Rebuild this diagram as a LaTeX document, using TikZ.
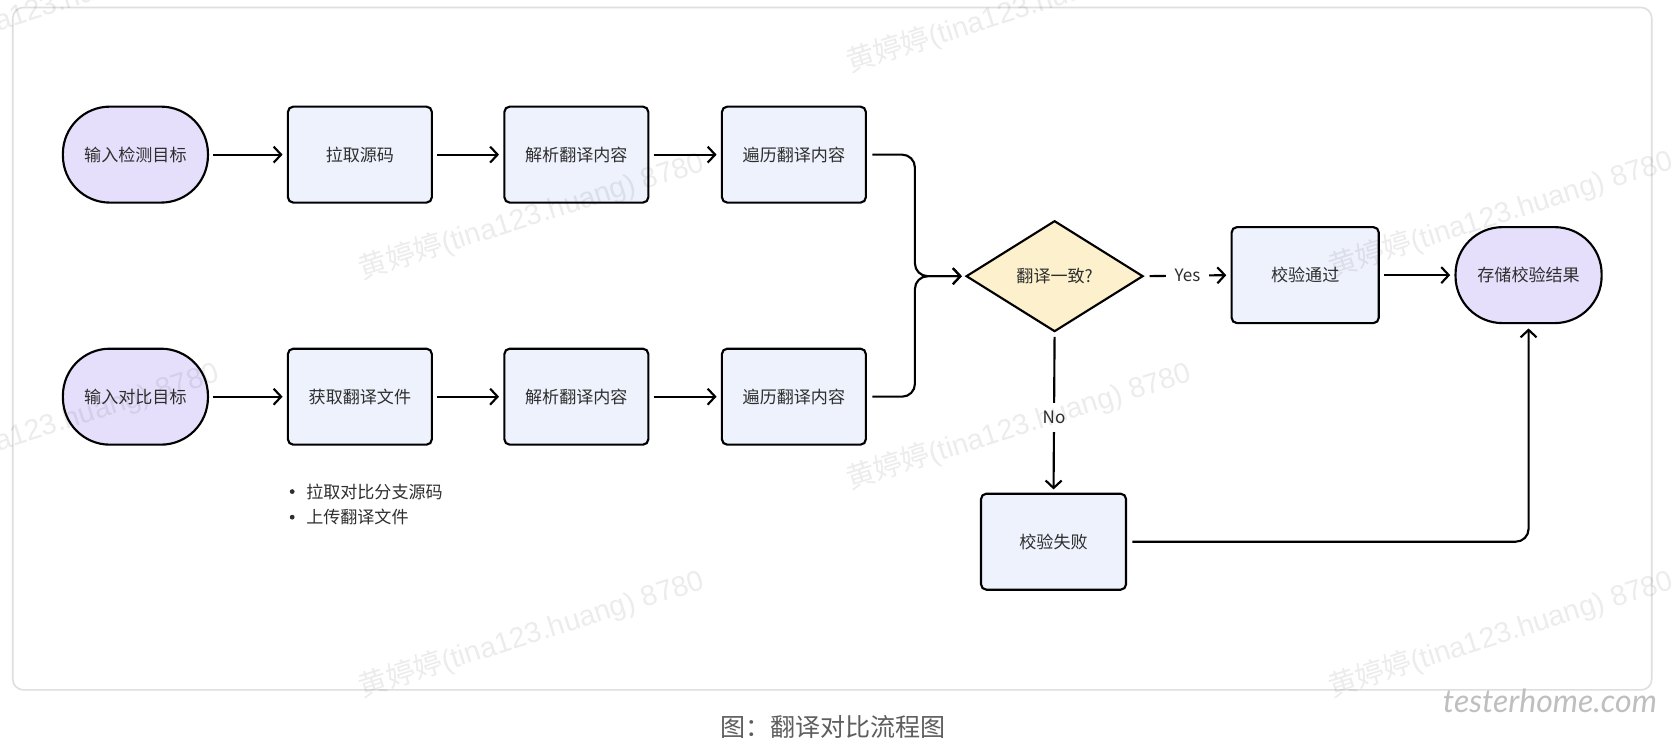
\documentclass[tikz,border=0pt]{standalone}
\usepackage{fontspec}
\setmainfont{Noto Sans CJK SC}
\newfontfamily\wmfont{Liberation Sans}
\newfontfamily\logofont{Lato}
\usetikzlibrary{shapes.geometric,arrows.meta}
\definecolor{lav}{HTML}{E6DFFB}
\definecolor{procfill}{HTML}{EEF2FC}
\definecolor{decfill}{HTML}{FDF1CD}
\definecolor{framecol}{HTML}{DEDEE3}
\definecolor{txt}{HTML}{2E2E2E}
\definecolor{capcol}{HTML}{5E5E5E}
\begin{document}
\begin{tikzpicture}[x=1pt,y=-1pt,
 base/.style={draw=black, line width=2pt, text=txt, font=\fontsize{16}{19}\selectfont, inner sep=0pt},
 term/.style={base, rectangle, rounded corners=44pt, fill=lav, minimum width=136pt, minimum height=90pt},
 proc/.style={base, rectangle, rounded corners=5pt, fill=procfill, minimum width=135pt, minimum height=90pt},
 dec/.style={base, diamond, fill=decfill, minimum width=166pt, minimum height=104pt},
 conn/.style={line width=2pt, draw=black},
 arr/.style={conn, -{Straight Barb[length=7pt,width=15pt]}},
 lbl/.style={fill=white, text=txt, font=\fontsize{16}{19}\selectfont, inner xsep=8pt, inner ysep=8pt},
 wm/.style={anchor=base west, rotate=17.6, text=black, text opacity=0.075, font=\fontsize{27}{31}\selectfont, inner sep=0pt},
]
\useasboundingbox (0,0) rectangle (1568,697.7);
\fill[white] (0,0) rectangle (1568,697.7);
\draw[framecol, line width=1.5pt, rounded corners=10pt] (12,7) rectangle (1549,647);

% row 1
\node[term] (t1) at (127,145) {输入检测目标};
\node[proc] (p1) at (337.5,145) {拉取源码};
\node[proc] (p2) at (540.5,145) {解析翻译内容};
\node[proc] (p3) at (744.5,145) {遍历翻译内容};
% row 2
\node[term] (t2) at (127,372) {输入对比目标};
\node[proc] (q1) at (337.5,372) {获取翻译文件};
\node[proc] (q2) at (540.5,372) {解析翻译内容};
\node[proc] (q3) at (744.5,372) {遍历翻译内容};
% right part
\node[dec] (dia) at (989,259) {翻译一致?};
\node[proc, minimum width=138pt] (pass) at (1224,258) {校验通过};
\node[term, minimum width=137pt] (store) at (1433.5,258) {存储校验结果};
\node[proc, minimum width=136pt] (fail) at (988,508) {校验失败};
\coordinate (m) at (858,259);

\draw[arr, shorten <=4pt, shorten >=4pt] (t1) -- (p1);
\draw[arr, shorten <=4pt, shorten >=4pt] (p1) -- (p2);
\draw[arr, shorten <=4pt, shorten >=4pt] (p2) -- (p3);
\draw[arr, shorten <=4pt, shorten >=4pt] (t2) -- (q1);
\draw[arr, shorten <=4pt, shorten >=4pt] (q1) -- (q2);
\draw[arr, shorten <=4pt, shorten >=4pt] (q2) -- (q3);

\draw[arr, rounded corners=12pt, shorten <=5pt, shorten >=3pt] (p3.east) -| (m) -- (dia.west);
\draw[arr, rounded corners=12pt, shorten <=5pt, shorten >=3pt] (q3.east) -| (m) -- (dia.west);

\draw[arr, shorten <=5pt, shorten >=4pt] (dia.east) -- node[lbl] (yes) {Yes} (pass.west);
\draw[arr, shorten <=4pt, shorten >=4pt] (pass) -- (store);
\draw[arr, shorten <=4pt, shorten >=3pt] (dia.south) -- node[lbl, pos=0.53] (no) {No} (fail.north);
\draw[arr, rounded corners=12pt, shorten <=5pt, shorten >=4pt] (fail.east) -| (store.south);

% notes
\node[circle, fill=txt, inner sep=0pt, minimum size=4.5pt] (b1) at (274,461) {};
\node[anchor=west, text=txt, font=\fontsize{16}{19}\selectfont, inner sep=0pt] (n1) at (287,461) {拉取对比分支源码};
\node[circle, fill=txt, inner sep=0pt, minimum size=4.5pt] (b2) at (274,485) {};
\node[anchor=west, text=txt, font=\fontsize{16}{19}\selectfont, inner sep=0pt] (n2) at (287,485) {上传翻译文件};

% caption
\node[text=capcol, font=\fontsize{23.5}{28}\selectfont, inner sep=0pt] (cap) at (781,682) {图：翻译对比流程图};
\node[anchor=base west, text=black!25, font=\logofont\itshape\fontsize{30}{32}\selectfont, inner sep=0pt] (logo) at (1353,668) {testerhome.com};

% watermarks
\begin{scope}
\clip (0,0) rectangle (1568,697.7);
\foreach \wx/\wy [count=\i] in {-115/65, 797/68, 340/262, 1249/260, -115/459, 797/459, 340/654, 1249/654}{
  \node[wm] (wm\i) at (\wx,\wy) {黄婷婷{\wmfont(tina123.huang) 8780}};
}
\end{scope}
\end{tikzpicture}
\end{document}
